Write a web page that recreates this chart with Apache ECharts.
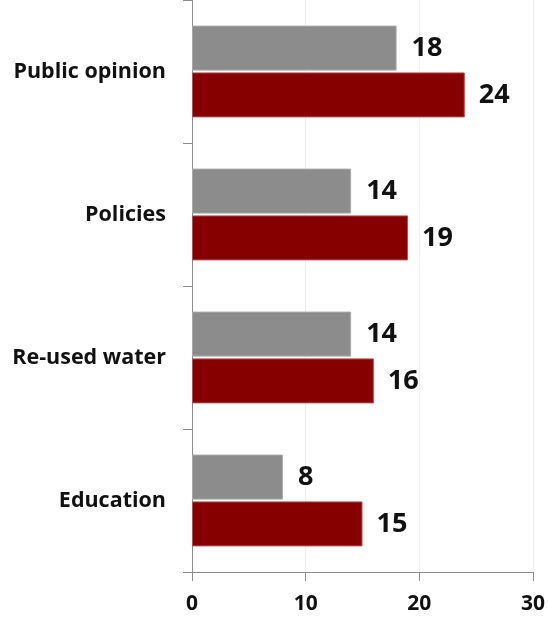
<!DOCTYPE html>
<html>
<head>
<meta charset="utf-8">
<script src="https://cdn.jsdelivr.net/npm/echarts@6/dist/echarts.min.js"></script>
<style>
html,body{margin:0;padding:0;background:#fff;}
#chart{width:548px;height:618px;}
</style>
</head>
<body>
<div id="chart"></div>
<script>
const categories = ['Public opinion', 'Policies', 'Re-used water', 'Education'];
const graySeries = [18, 14, 14, 8];
const redSeries = [24, 19, 16, 15];
const xTicks = [0, 10, 20, 30];

const FONT = '"Open Sans", "Noto Sans", sans-serif';
const chart = echarts.init(document.getElementById('chart'), null, {renderer: 'canvas'});
chart.setOption({
  animation: false,
  backgroundColor: '#ffffff',
  grid: {left: 192, right: 13, top: 0, bottom: 46, containLabel: false},
  xAxis: {
    type: 'value',
    min: xTicks[0], max: xTicks[xTicks.length - 1], interval: 10,
    axisLine: {show: true, lineStyle: {color: '#8c8c8c', width: 1}},
    axisTick: {show: true, length: 9, lineStyle: {color: '#8c8c8c'}},
    axisLabel: {color: '#111', fontSize: 21, fontWeight: 'bold', fontFamily: FONT, margin: 22},
    splitLine: {show: true, lineStyle: {color: '#eeeeee', width: 1}}
  },
  yAxis: {
    type: 'category',
    inverse: true,
    data: categories,
    axisLine: {show: true, lineStyle: {color: '#8c8c8c', width: 1}},
    axisTick: {show: true, length: 9, lineStyle: {color: '#8c8c8c'}},
    axisLabel: {color: '#111', fontSize: 21.5, fontWeight: 'bold', fontFamily: FONT, margin: 26}
  },
  series: [
    {
      type: 'bar', data: graySeries, barWidth: 45, barGap: '4%',
      itemStyle: {color: '#8c8c8c', borderColor: '#a8a8a8', borderWidth: 1},
      label: {show: true, position: 'right', distance: 15, color: '#111', fontSize: 27, fontWeight: 'bold', fontFamily: FONT}
    },
    {
      type: 'bar', data: redSeries, barWidth: 45, barGap: '4%',
      itemStyle: {color: '#870000', borderColor: '#b05050', borderWidth: 1},
      label: {show: true, position: 'right', distance: 14, color: '#111', fontSize: 27, fontWeight: 'bold', fontFamily: FONT}
    }
  ]
});
</script>
</body>
</html>
